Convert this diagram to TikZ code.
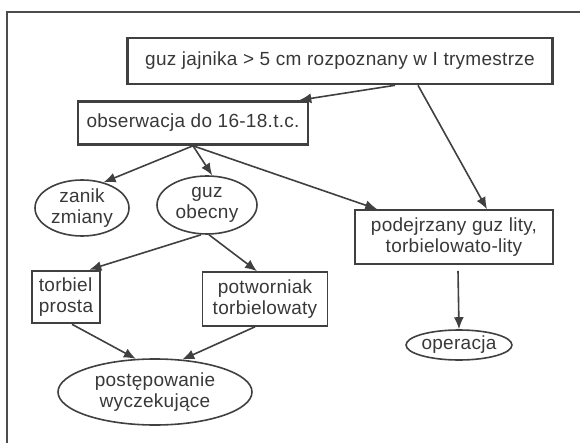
\documentclass[tikz,border=0pt]{standalone}
\usepackage{fontspec}
\setmainfont{Liberation Sans}[LetterSpace=1.5]
\usetikzlibrary{arrows.meta,shapes.geometric}

\begin{document}
\begin{tikzpicture}[x=1pt,y=-1pt,
    every node/.style={text=black!78,font=\fontsize{19}{21}\selectfont},
    box/.style={draw=black!75,line width=1.6pt,inner sep=0pt,align=center},
    oval/.style={draw=black!75,line width=1.6pt,ellipse,inner sep=0pt,align=center},
    arr/.style={draw=black!75,line width=1.6pt,-{Latex[length=12pt,width=10pt]}}]
      \useasboundingbox (0,0) rectangle (580,443) ;
      \draw[black!70,line width=1.2pt] (7,443) -- (7,12) -- (580,12) ;
      % boxes and ovals
      \node[box,line width=2.6pt,minimum width=425,minimum height=46] (guz) %
      at (340,61) {guz jajnika > 5 cm rozpoznany w I trymestrze} ;
      \node[box,line width=2.6pt,minimum width=230,minimum height=43] (obs) %
      at (193,123) {obserwacja do 16-18.t.c.} ;
      \node[oval,minimum width=94,minimum height=56] (zanik) %
      at (82,208) {zanik\\zmiany} ;
      \node[oval,minimum width=100,minimum height=58] (obecny) %
      at (207,205) {guz\\obecny} ;
      \node[box,minimum width=198,minimum height=54] (podejrz) %
      at (454,237) {podejrzany guz lity,\\torbielowato-lity} ;
      \node[box,line width=2.6pt,minimum width=68,minimum height=52,
        align=left] (torbiel) at (66,297) {torbiel\\prosta} ;
      \node[box,minimum width=125,minimum height=54] (potwor) %
      at (265,299) {potworniak\\torbielowaty} ;
      \node[oval,minimum width=98,minimum height=30] (oper) %
      at (459,345) {operacja} ;
      \node[oval,minimum width=194,minimum height=66] (postep) %
      at (155,392) {postępowanie\\wyczekujące} ;
      % arrows
      \draw[arr] ([xshift=55pt]guz.south) -- ([xshift=-10pt]obs.north east) ;
      \draw[arr] ([xshift=78pt]guz.south) -- ([xshift=33pt]podejrz.north) ;
      \draw[arr] (obs.south) -- (zanik.50) ;
      \draw[arr] (obs.south) -- (obecny.80) ;
      \draw[arr] (obs.south) -- ([xshift=23pt]podejrz.north west) ;
      \draw[arr] ([xshift=-6pt]obecny.south) -- ([xshift=-12pt]torbiel.north east) ;
      \draw[arr] ([xshift=2pt]obecny.south) -- ([xshift=-8pt]potwor.north) ;
      \draw[arr] ([xshift=4pt,yshift=-6pt]podejrz.south) -- (oper.north) ;
      \draw[arr] ([xshift=6pt]torbiel.south) -- (postep.120) ;
      \draw[arr] ([xshift=-10pt]potwor.south) -- (postep.50) ;
\end{tikzpicture}
\end{document}
